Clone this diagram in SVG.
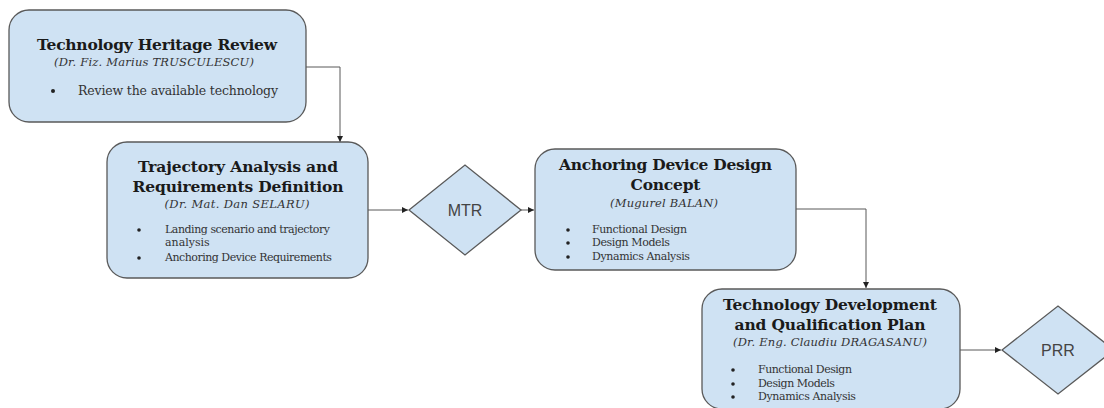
<svg xmlns="http://www.w3.org/2000/svg" width="1104" height="408" viewBox="0 0 1104 408">
<style>
.box{fill:#cfe2f3;stroke:#595959;stroke-width:1.3}
.dia{fill:#cfe2f3;stroke:#595959;stroke-width:1.3}
.t{font-family:"DejaVu Serif",serif;font-weight:bold;font-size:15.5px;fill:#1a1a1a;text-anchor:middle}
.s{font-family:"DejaVu Serif",serif;font-style:italic;font-size:11.5px;fill:#333;text-anchor:middle}
.b{font-family:"DejaVu Serif",serif;font-size:11px;fill:#333}
.b1{font-family:"DejaVu Serif",serif;font-size:12.5px;fill:#333}
.dot{fill:#222}
.d{font-family:"Liberation Sans",Arial,sans-serif;font-size:16px;fill:#444;text-anchor:middle}
.c{fill:none;stroke:#595959;stroke-width:1}
</style>
<defs>
<marker id="ah" viewBox="0 0 6 6" refX="6" refY="3" markerWidth="6" markerHeight="6" markerUnits="userSpaceOnUse" orient="auto">
<path d="M0,0 L6,3 L0,6 z" fill="#222"/>
</marker>
</defs>
<g id="connectors">
<path class="c" d="M306,67 H340 V142" marker-end="url(#ah)"/>
<path class="c" d="M368,210 H408" marker-end="url(#ah)"/>
<path class="c" d="M521,210 H534" marker-end="url(#ah)"/>
<path class="c" d="M796,209 H866 V288" marker-end="url(#ah)"/>
<path class="c" d="M960,350 H1001" marker-end="url(#ah)"/>
</g>
<g id="heritage">
<rect class="box" x="9" y="10" width="297" height="112" rx="20"/>
<text class="t" x="157" y="50" textLength="240">Technology Heritage Review</text>
<text class="s" x="154" y="66" textLength="200">(Dr. Fiz. Marius TRUSCULESCU)</text>
<circle class="dot" cx="53" cy="91" r="2"/>
<text class="b1" x="78" y="95" textLength="200">Review the available technology</text>
</g>
<g id="trajectory">
<rect class="box" x="107" y="142" width="261" height="136" rx="20"/>
<text class="t" x="238" y="172" textLength="200">Trajectory Analysis and</text>
<text class="t" x="238" y="192" textLength="211">Requirements Definition</text>
<text class="s" x="237" y="208" textLength="145">(Dr. Mat. Dan SELARU)</text>
<circle class="dot" cx="139" cy="230" r="1.8"/>
<text class="b" x="165" y="233" textLength="165">Landing scenario and trajectory</text>
<text class="b" x="165" y="246">analysis</text>
<circle class="dot" cx="139" cy="258" r="1.8"/>
<text class="b" x="165" y="261" textLength="167">Anchoring Device Requirements</text>
</g>
<g id="mtr">
<polygon class="dia" points="409,210 465,165 521,210 465,255"/>
<text class="d" x="465" y="216">MTR</text>
</g>
<g id="anchoring">
<rect class="box" x="535" y="149" width="261" height="121" rx="20"/>
<text class="t" x="665.5" y="170" textLength="213">Anchoring Device Design</text>
<text class="t" x="665.5" y="190" textLength="70">Concept</text>
<text class="s" x="664" y="207" textLength="108">(Mugurel BALAN)</text>
<circle class="dot" cx="568" cy="230" r="1.8"/>
<text class="b" x="592" y="233" textLength="95">Functional Design</text>
<circle class="dot" cx="568" cy="243" r="1.8"/>
<text class="b" x="592" y="246" textLength="78">Design Models</text>
<circle class="dot" cx="568" cy="257" r="1.8"/>
<text class="b" x="592" y="260" textLength="98">Dynamics Analysis</text>
</g>
<g id="techdev">
<rect class="box" x="702" y="289" width="258" height="120" rx="20"/>
<text class="t" x="830" y="310" textLength="214">Technology Development</text>
<text class="t" x="830" y="330" textLength="191">and Qualification Plan</text>
<text class="s" x="830" y="346" textLength="194">(Dr. Eng. Claudiu DRAGASANU)</text>
<circle class="dot" cx="733" cy="370" r="1.8"/>
<text class="b" x="758" y="373" textLength="94">Functional Design</text>
<circle class="dot" cx="733" cy="384" r="1.8"/>
<text class="b" x="758" y="387" textLength="77">Design Models</text>
<circle class="dot" cx="733" cy="397" r="1.8"/>
<text class="b" x="758" y="400" textLength="98">Dynamics Analysis</text>
</g>
<g id="prr">
<polygon class="dia" points="1002,350 1058,306 1114,350 1058,394"/>
<text class="d" x="1058" y="356">PRR</text>
</g>
</svg>
